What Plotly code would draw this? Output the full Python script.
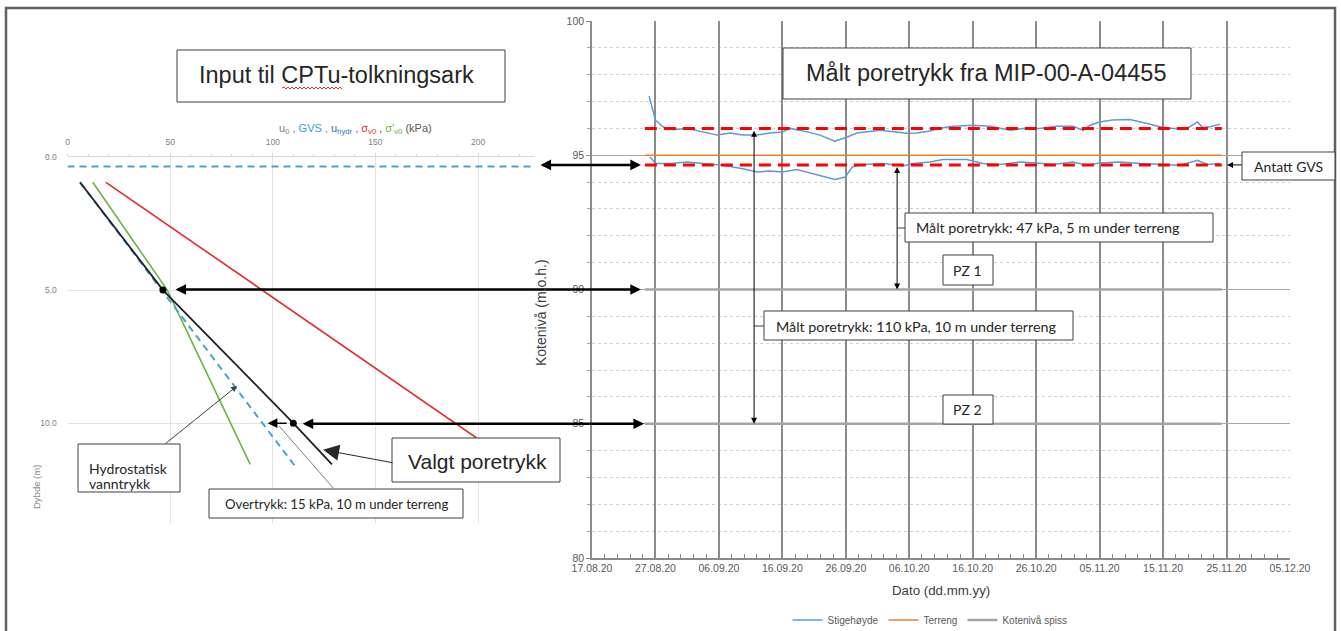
import plotly.graph_objects as go

W, H = 1341, 631


def fx(px):
    return px / W


def fy(py):
    return 1 - py / H


# ---------------- Right panel: measured piezometric head ----------------
upper_dates = [
    "2020-08-26 00:00", "2020-08-27 00:00", "2020-08-28 06:00", "2020-08-29 18:00",
    "2020-09-01 00:00", "2020-09-03 12:00", "2020-09-05 18:00", "2020-09-07 18:00",
    "2020-09-09 18:00", "2020-09-12 00:00", "2020-09-14 00:00", "2020-09-16 00:00",
    "2020-09-17 06:00", "2020-09-19 22:00", "2020-09-21 22:00", "2020-09-24 06:00",
    "2020-09-26 06:00", "2020-09-27 18:00", "2020-10-01 10:00", "2020-10-04 00:00",
    "2020-10-05 12:00", "2020-10-07 06:00", "2020-10-09 06:00", "2020-10-10 18:00",
    "2020-10-12 12:00", "2020-10-16 00:00", "2020-10-18 18:00", "2020-10-21 22:00",
    "2020-10-23 22:00", "2020-10-26 12:00", "2020-10-29 06:00", "2020-10-31 18:00",
    "2020-11-02 10:00", "2020-11-03 12:00", "2020-11-05 00:00", "2020-11-07 00:00",
    "2020-11-09 18:00", "2020-11-12 12:00", "2020-11-14 12:00", "2020-11-16 12:00",
    "2020-11-18 18:00", "2020-11-20 10:00", "2020-11-21 06:00", "2020-11-22 10:00",
    "2020-11-24 00:00",
]
upper_levels = [
    97.2, 96.3, 96.05, 95.95,
    96.0, 95.87, 95.75, 95.83,
    95.75, 95.75, 95.83, 95.87,
    96.0, 95.87, 95.75, 95.52,
    95.68, 95.83, 95.93, 95.87,
    95.82, 95.83, 95.9, 96.0,
    96.07, 96.12, 96.08, 95.93,
    96.0, 96.0, 96.08, 96.08,
    95.93, 96.12, 96.24, 96.31,
    96.33, 96.18, 96.06, 96.0,
    96.0, 96.24, 96.03, 96.06,
    96.16,
]

lower_dates = [
    "2020-08-26 03:00", "2020-08-27 00:00", "2020-08-29 07:00", "2020-09-01 00:00",
    "2020-09-03 12:00", "2020-09-06 15:00", "2020-09-09 19:00", "2020-09-12 00:00",
    "2020-09-14 00:00", "2020-09-16 00:00", "2020-09-18 07:00", "2020-09-20 19:00",
    "2020-09-24 07:00", "2020-09-25 22:00", "2020-09-27 00:00", "2020-09-28 17:00",
    "2020-10-01 22:00", "2020-10-05 00:00", "2020-10-06 14:00", "2020-10-09 07:00",
    "2020-10-11 07:00", "2020-10-15 02:00", "2020-10-17 14:00", "2020-10-20 07:00",
    "2020-10-23 12:00", "2020-10-26 00:00", "2020-10-28 17:00", "2020-10-31 19:00",
    "2020-11-03 00:00", "2020-11-05 00:00", "2020-11-08 05:00", "2020-11-11 10:00",
    "2020-11-14 12:00", "2020-11-17 17:00", "2020-11-20 10:00", "2020-11-21 22:00",
    "2020-11-24 00:00",
]
lower_levels = [
    94.94, 94.69, 94.69, 94.75,
    94.69, 94.63, 94.5, 94.38,
    94.41, 94.38, 94.47, 94.32,
    94.1, 94.19, 94.56, 94.66,
    94.69, 94.6, 94.69, 94.75,
    94.84, 94.84, 94.69, 94.66,
    94.75, 94.71, 94.66, 94.75,
    94.63, 94.71, 94.75, 94.69,
    94.66, 94.63, 94.81, 94.66,
    94.69,
]

series_span = ["2020-08-25 08:00", "2020-11-24 06:00"]
terrain_level = 95.0
tip_levels = [90.0, 85.0]          # PZ 1, PZ 2
chosen_levels = [96.0, 94.64]      # selected head levels (red dashed)

# ---------------- Left panel: CPTu input profile ----------------
u0_kpa = [6.1, 46.5, 110.0, 128.8]
u0_depth = [0.95, 5.0, 10.0, 11.55]
uhydr_kpa = [6.1, 110.7]
uhydr_depth = [0.95, 11.6]
sv0_kpa = [18.7, 218.0]
sv0_depth = [0.95, 11.55]
sv0eff_kpa = [12.3, 48.6, 89.0]
sv0eff_depth = [0.95, 5.0, 11.55]
gvs_kpa = [0.0, 227.0]
gvs_depth = 0.36
point_kpa = [46.5, 110.0]
point_depth = [5.0, 10.0]

BLUE = "#5b9bd5"
ORANGE = "#ed7d31"
GREY = "#a5a5a5"
RED = "#ff0000"
TEAL = "#45a3cc"
INK = "#262626"

fig = go.Figure()

# left panel traces
fig.add_trace(go.Scatter(x=sv0_kpa, y=sv0_depth, mode="lines", xaxis="x", yaxis="y",
                         line=dict(color="#e8262b", width=1.6), showlegend=False))
fig.add_trace(go.Scatter(x=sv0eff_kpa, y=sv0eff_depth, mode="lines", xaxis="x", yaxis="y",
                         line=dict(color="#6cb33f", width=1.6), showlegend=False))
fig.add_trace(go.Scatter(x=uhydr_kpa, y=uhydr_depth, mode="lines", xaxis="x", yaxis="y",
                         line=dict(color=TEAL, width=2, dash="7px,5px"), showlegend=False))
fig.add_trace(go.Scatter(x=u0_kpa, y=u0_depth, mode="lines", xaxis="x", yaxis="y",
                         line=dict(color="#1f1f2b", width=1.8), showlegend=False))
fig.add_trace(go.Scatter(x=gvs_kpa, y=[gvs_depth, gvs_depth], mode="lines", xaxis="x", yaxis="y",
                         line=dict(color=TEAL, width=2, dash="7px,5px"), showlegend=False,
                         cliponaxis=False))
fig.add_trace(go.Scatter(x=point_kpa, y=point_depth, mode="markers", xaxis="x", yaxis="y",
                         marker=dict(color="black", size=7), showlegend=False))

# right panel traces
fig.add_trace(go.Scatter(x=series_span + [None] + series_span,
                         y=[tip_levels[0]] * 2 + [None] + [tip_levels[1]] * 2,
                         mode="lines", xaxis="x2", yaxis="y2", name="Kotenivå spiss",
                         line=dict(color=GREY, width=2.5), legendrank=3))
fig.add_trace(go.Scatter(x=series_span, y=[terrain_level] * 2, mode="lines",
                         xaxis="x2", yaxis="y2", name="Terreng",
                         line=dict(color=ORANGE, width=1.5), legendrank=2))
fig.add_trace(go.Scatter(x=upper_dates, y=upper_levels, mode="lines", xaxis="x2", yaxis="y2",
                         name="Stigehøyde", legendgroup="stige",
                         line=dict(color=BLUE, width=1.5), legendrank=1))
fig.add_trace(go.Scatter(x=lower_dates, y=lower_levels, mode="lines", xaxis="x2", yaxis="y2",
                         name="Stigehøyde", legendgroup="stige", showlegend=False,
                         line=dict(color=BLUE, width=1.5)))
fig.add_trace(go.Scatter(x=series_span + [None] + series_span,
                         y=[chosen_levels[0]] * 2 + [None] + [chosen_levels[1]] * 2,
                         mode="lines", xaxis="x2", yaxis="y2", showlegend=False,
                         line=dict(color=RED, width=3, dash="12px,7px")))

DAY = 86400000


def arrow(x, y, ax, ay, xref, yref, axref="pixel", ayref="pixel", width=1.0, size=1.0,
          head=2, side="end", color="black"):
    return dict(x=x, y=y, xref=xref, yref=yref, ax=ax, ay=ay, axref=axref, ayref=ayref,
                text="", showarrow=True, arrowhead=head, startarrowhead=head,
                arrowsize=size, startarrowsize=size, arrowwidth=width, arrowcolor=color,
                arrowside=side, font=dict(size=2), borderpad=0, standoff=0, startstandoff=0)


def frame(x0, y0, x1, y1):
    return dict(type="rect", xref="paper", yref="paper", x0=fx(x0), x1=fx(x1),
                y0=fy(y1), y1=fy(y0), layer="above", fillcolor="white",
                line=dict(color="#404040", width=1))


def text(t, x, y, size=14, family="Lato", anchor="center", color=INK, angle=0):
    return dict(text=t, xref="paper", yref="paper", x=fx(x), y=fy(y),
                xanchor=anchor, yanchor="middle", showarrow=False, textangle=angle,
                font=dict(family=family, size=size, color=color))


axis_title = ("<span style='color:#7f7f7f'>u<sub>0</sub> , </span>"
              "<span style='color:#31a2d0'>GVS , </span>"
              "<span style='color:#2e75b6'>u<sub>hydr</sub> , </span>"
              "<span style='color:#e8262b'>σ<sub>v0</sub> , </span>"
              "<span style='color:#6cb33f'>σ'<sub>v0</sub> </span>"
              "<span style='color:#595959'>(kPa)</span>")

annotations = [
    # long links between the two panels
    arrow("2020-08-24 17:00", chosen_levels[1], -101, 0, "x2", "y2", width=2.5, size=0.85,
          side="end+start"),
    arrow("2020-08-24 17:00", tip_levels[0], -466, 0, "x2", "y2", width=2.5, size=0.85,
          side="end+start"),
    arrow("2020-08-25 05:00", tip_levels[1], -342, 0, "x2", "y2", width=2.5, size=0.85,
          side="end+start"),
    # measured head markers in right panel
    arrow("2020-10-04 02:00", tip_levels[0], "2020-10-04 02:00", 94.58, "x2", "y2",
          axref="x2", ayref="y2", width=1, size=1.2, side="end+start"),
    arrow("2020-09-11 13:00", tip_levels[1], "2020-09-11 13:00", 95.93, "x2", "y2",
          axref="x2", ayref="y2", width=1, size=1.2, side="end+start"),
    arrow("2020-11-25 02:00", chosen_levels[1], 15, 0, "x2", "y2", width=1, size=1.2),
    # left panel pointers
    arrow(82.6, 8.6, -72, 58, "x", "y", width=1, size=1.2, color="#404040"),
    arrow(103.0, 10.1, 55, 63, "x", "y", width=1, head=0, color="#7f7f7f"),
    arrow(124.5, 11.0, 70, 13, "x", "y", width=1, size=3.2, color=INK),
    arrow(97.5, 10.0, 107.0, 10.0, "x", "y", axref="x", ayref="y", width=1.5, size=1.3),
    # box texts
    text("Input til CPTu-tolkningsark", 336, 75, size=23.5, family="Liberation Sans"),
    text("Målt poretrykk fra MIP-00-A-04455", 986, 73, size=23.5, family="Liberation Sans"),
    text("Målt poretrykk: 47 kPa, 5 m under terreng", 914, 228, size=14.3, anchor="left"),
    text("PZ 1", 968, 270),
    text("Målt poretrykk: 110 kPa, 10 m under terreng", 774, 326, size=14.3, anchor="left"),
    text("PZ 2", 968, 409),
    text("Antatt GVS", 1288, 166),
    text("Hydrostatisk", 87, 468, anchor="left"),
    text("vanntrykk", 87, 483, anchor="left"),
    text("Overtrykk: 15 kPa, 10 m under terreng", 336, 503.5, size=13.2),
    text("Valgt poretrykk", 477, 461, size=21, family="Liberation Sans"),
    # axis titles
    text(axis_title, 355, 129, size=11, family="Liberation Sans"),
    text("Dybde (m)", 36, 487, size=9.5, family="Liberation Sans", color="#8c8c8c", angle=-90),
    text("Kotenivå (m.o.h.)", 541, 313, size=14, family="Liberation Sans", color="#404040",
         angle=-90),
    text("Dato (dd.mm.yy)", 941, 590, size=13.3, family="Liberation Sans", color="#404040"),
]

# red spell-check squiggle under the left title
pts = [f"M{fx(282):.5f},{fy(88):.5f}"]
xx = 282
up = True
while xx < 342:
    xx += 2
    pts.append(f"L{fx(xx):.5f},{fy(87 if up else 89):.5f}")
    up = not up
squiggle = "".join(pts)

shapes = [
    dict(type="rect", xref="paper", yref="paper", x0=fx(6), x1=fx(1335), y0=-0.2, y1=fy(8),
         line=dict(color="#606060", width=2.5), layer="below"),
    frame(177, 50, 505, 102),
    frame(783, 48, 1191, 99),
    frame(905, 213, 1213, 242),
    frame(943, 255, 993, 285),
    frame(764, 311, 1073, 340),
    frame(943, 395, 993, 424),
    frame(1242, 152, 1335, 180),
    frame(78, 444, 180, 492),
    frame(209, 489, 463, 518),
    frame(392, 438, 560, 482),
    dict(type="line", xref="paper", yref="paper", x0=fx(898), x1=fx(905), y0=fy(228), y1=fy(228),
         line=dict(color="#404040", width=1), layer="above"),
    dict(type="line", xref="paper", yref="paper", x0=fx(754), x1=fx(764), y0=fy(326), y1=fy(326),
         line=dict(color="#404040", width=1), layer="above"),
    dict(type="path", xref="paper", yref="paper", path=squiggle, layer="above",
         line=dict(color="#e03030", width=1)),
]

fig.update_layout(
    width=W, height=H,
    margin=dict(l=0, r=0, t=0, b=0, autoexpand=False),
    paper_bgcolor="white", plot_bgcolor="white",
    font=dict(family="Liberation Sans", color="#595959"),
    xaxis=dict(domain=[fx(67.5), fx(533.5)], range=[0, 227], side="top", anchor="y",
               automargin=False, ticklabelstandoff=5,
               tickvals=[0, 50, 100, 150, 200], showgrid=True, gridcolor="#e3e3e3",
               zeroline=False, showline=True, linecolor="#d9d9d9",
               ticks="outside", ticklen=3, tickcolor="#d9d9d9",
               minor=dict(dtick=10, ticks="outside", ticklen=2, tickcolor="#d9d9d9",
                          showgrid=False),
               tickfont=dict(size=8.5, color="#7f7f7f")),
    yaxis=dict(domain=[fy(523), fy(157)], range=[13.75, 0], anchor="x", automargin=False,
               tickvals=[0, 5, 10], tickformat=".1f", showgrid=True, gridcolor="#e3e3e3",
               zeroline=False, showline=False, ticks="outside", ticklen=8,
               tickcolor="rgba(0,0,0,0)", tickfont=dict(size=8.5, color="#7f7f7f")),
    xaxis2=dict(domain=[fx(592), fx(1290)], range=["2020-08-17", "2020-12-05"], anchor="y2",
                automargin=False,
                tick0="2020-08-17", dtick=10 * DAY, tickformat="%d.%m.%y",
                showgrid=True, gridcolor="#8c8c8c", gridwidth=1.5, zeroline=False,
                showline=True, linecolor="#8c8c8c", linewidth=1.5,
                ticks="", minor=dict(dtick=2 * DAY, ticks="inside", ticklen=4,
                                     tickcolor="#8c8c8c", showgrid=False),
                tickfont=dict(size=10.5, color="#595959")),
    yaxis2=dict(domain=[fy(558), fy(21)], range=[80, 100], anchor="x2", dtick=5,
                automargin=False,
                showgrid=True, gridcolor="#a6a6a6", gridwidth=1.2, zeroline=False,
                showline=True, linecolor="#8c8c8c", linewidth=1.5,
                ticks="outside", ticklen=4, tickcolor="#8c8c8c",
                minor=dict(dtick=1, showgrid=True, gridcolor="#d0d0d0", griddash="dot",
                           ticks="outside", ticklen=3, tickcolor="#a6a6a6"),
                tickfont=dict(size=10.5, color="#595959")),
    legend=dict(orientation="h", x=fx(930), xanchor="center", y=fy(620), yanchor="middle",
                font=dict(size=10, color="#595959"), bgcolor="rgba(0,0,0,0)",
                itemwidth=30, tracegroupgap=0),
    annotations=annotations,
    shapes=shapes,
)

fig.write_html("out.html")
